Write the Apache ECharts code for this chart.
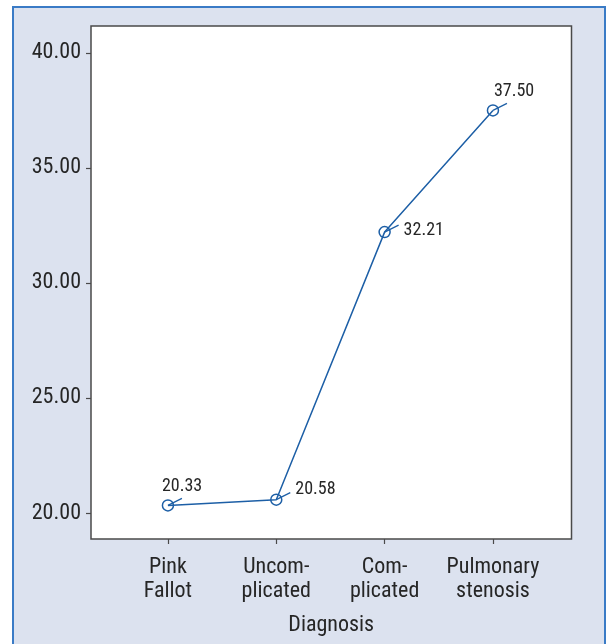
<!DOCTYPE html>
<html>
<head>
<meta charset="utf-8">
<script src="https://cdn.jsdelivr.net/npm/echarts@6/dist/echarts.min.js"></script>
<style>
  html, body { margin: 0; padding: 0; background: #ffffff; }
  #frame { position: absolute; left: 12px; top: 6px; width: 590px; height: 660px;
           background: #dce2ef; border-left: 2px solid #3a7bc6; border-top: 2px solid #3a7bc6; border-right: 2px solid #3a7bc6; }
  #chart { position: absolute; left: 0; top: 0; width: 606px; height: 644px; }
</style>
</head>
<body>
<div id="frame"></div>
<div id="chart"></div>
<script>
const categories = ['Pink\nFallot', 'Uncom-\nplicated', 'Com-\nplicated', 'Pulmonary\nstenosis'];
const meanValues = [20.33, 20.58, 32.21, 37.50];
const yTicks = [20, 25, 30, 35, 40];
const xName = 'Diagnosis';

const FONT = "'Roboto Condensed', 'Liberation Sans Narrow', 'Arial Narrow', 'Roboto', sans-serif";
const LINE_COLOR = '#1d5fa6';
const TEXT_COLOR = '#262626';

const points = meanValues.map((v, i) => [i, v]);
// label placement relative to each point (pixels): [text dx, text dy]
const labelPlace = [[-6, -19], [19, -10], [19, -2], [1, -19]];

const chart = echarts.init(document.getElementById('chart'), null, { renderer: 'canvas' });
chart.setOption({
  backgroundColor: 'transparent',
  animation: false,
  grid: {
    left: 91, top: 26, right: 34.5, bottom: 105,
    outerBoundsMode: 'none',
    containLabel: false,
    show: true, backgroundColor: '#ffffff', borderColor: '#4a4a4a', borderWidth: 1.5
  },
  xAxis: {
    type: 'value',
    min: -0.71, max: 3.725,
    name: xName, nameLocation: 'middle', nameGap: 75,
    nameTextStyle: { fontFamily: FONT, fontSize: 22, color: TEXT_COLOR },
    splitLine: { show: false },
    axisLine: { show: false, onZero: false },
    axisTick: { show: true, customValues: categories.map((c, i) => i), length: 5, lineStyle: { color: '#4a4a4a', width: 1.2 } },
    axisLabel: {
      customValues: categories.map((c, i) => i),
      formatter: v => categories[Math.round(v)],
      fontFamily: FONT, fontSize: 22, color: TEXT_COLOR, lineHeight: 24, margin: 16
    }
  },
  yAxis: {
    type: 'value',
    min: 18.87, max: 41.17,
    splitLine: { show: false },
    axisLine: { show: false, onZero: false },
    axisTick: { show: true, customValues: yTicks, length: 5, lineStyle: { color: '#4a4a4a', width: 1.2 } },
    axisLabel: {
      customValues: yTicks,
      formatter: v => v.toFixed(2),
      fontFamily: FONT, fontSize: 22, color: TEXT_COLOR, margin: 10
    }
  },
  series: [
    {
      type: 'line',
      data: points,
      symbol: 'circle',
      symbolSize: 11,
      lineStyle: { color: LINE_COLOR, width: 1.5 },
      itemStyle: { color: 'rgba(0,0,0,0)', borderColor: LINE_COLOR, borderWidth: 1.5 },
      z: 3
    },
    {
      type: 'custom',
      data: points,
      z: 4,
      renderItem: (params, api) => {
        const p = api.coord([api.value(0), api.value(1)]);
        const i = params.dataIndex;
        const pl = labelPlace[i];
        return {
          type: 'group',
          children: [
            { type: 'line', shape: { x1: p[0], y1: p[1], x2: p[0] + 14, y2: p[1] - 7 },
              style: { stroke: LINE_COLOR, lineWidth: 1.3 } },
            { type: 'text', x: p[0] + pl[0], y: p[1] + pl[1],
              style: { text: meanValues[i].toFixed(2), font: '18px ' + FONT, fill: TEXT_COLOR,
                       textAlign: 'left', textVerticalAlign: 'middle' } }
          ]
        };
      }
    }
  ]
});
</script>
</body>
</html>
